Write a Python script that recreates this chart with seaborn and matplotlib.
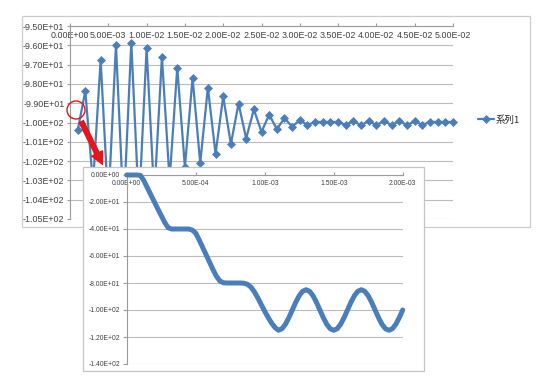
import matplotlib
matplotlib.use("Agg")
import matplotlib.pyplot as plt
import seaborn as sns
import pandas as pd
from matplotlib.patches import Rectangle, Circle, FancyArrow

# ---------------- data ----------------
# main chart: time (s) and value
main_t = [0.001, 0.002, 0.003, 0.004, 0.005, 0.006, 0.007, 0.008, 0.009, 0.010,
          0.011, 0.012, 0.013, 0.014, 0.015, 0.016, 0.017, 0.018, 0.019, 0.020,
          0.021, 0.022, 0.023, 0.024, 0.025, 0.026, 0.027, 0.028, 0.029, 0.030,
          0.031, 0.032, 0.033, 0.034, 0.035, 0.036, 0.037, 0.038, 0.039, 0.040,
          0.041, 0.042, 0.043, 0.044, 0.045, 0.046, 0.047, 0.048, 0.049, 0.050]
main_v = [-100.41, -98.37, -103.2, -96.76, -104.3, -95.98, -104.6, -95.87, -104.4, -96.16,
          -103.8, -96.59, -103.0, -97.16, -102.3, -97.69, -102.10, -98.19, -101.63, -98.65,
          -101.12, -99.02, -100.83, -99.32, -100.49, -99.59, -100.35, -99.77, -100.22, -99.87,
          -100.13, -99.97, -99.97, -99.97, -99.97, -100.13, -99.92, -100.15, -99.90, -100.15,
          -99.90, -100.15, -99.90, -100.15, -99.92, -100.13, -99.97, -99.97, -99.97, -99.97]
series_name = "系列1"

main_xticks = [0.0, 0.005, 0.010, 0.015, 0.020, 0.025, 0.030, 0.035, 0.040, 0.045, 0.050]
main_xlabels = ["0.00E+00", "5.00E-03", "1.00E-02", "1.50E-02", "2.00E-02", "2.50E-02",
                "3.00E-02", "3.50E-02", "4.00E-02", "4.50E-02", "5.00E-02"]
main_yticks = [-105, -104, -103, -102, -101, -100, -99, -98, -97, -96, -95]
main_ylabels = ["-1.05E+02", "-1.04E+02", "-1.03E+02", "-1.02E+02", "-1.01E+02", "-1.00E+02",
                "-9.90E+01", "-9.80E+01", "-9.70E+01", "-9.60E+01", "-9.50E+01"]

# inset (zoom of the start): time in microseconds and value
inset_t_us = [0, 25, 50, 75, 100, 125, 150, 175, 200, 225, 250, 275, 300, 325, 350, 375,
              400, 425, 450, 475, 500, 525, 550, 575, 600, 625, 650, 675, 700, 725, 750, 775,
              800, 825, 850, 875, 900, 925, 950, 975, 1000, 1025, 1050, 1075, 1100, 1125,
              1150, 1175, 1200, 1225, 1250, 1275, 1300, 1325, 1350, 1375, 1400, 1425, 1450,
              1475, 1500, 1525, 1550, 1575, 1600, 1625, 1650, 1675, 1700, 1725, 1750, 1775,
              1800, 1825, 1850, 1875, 1900, 1925, 1950, 1975, 2000]
inset_v = [0, 0, 0, 0, -0.3, -4.3, -9.5, -14.7, -19.8, -25, -30, -35, -39, -40, -40, -40,
           -40, -40, -40, -40.8, -43, -48, -53.5, -59, -64.5, -70, -75, -78.5, -79.8, -80, -80, -80,
           -80, -80, -80.2, -81, -83, -86.5, -91, -96, -101, -105.5, -109.7, -113, -115, -113.9,
           -110.6, -105.7, -100, -94.3, -89.4, -86.1, -85, -86.1, -89.4, -94.3, -100, -105.7, -110.6,
           -113.9, -115, -113.9, -110.6, -105.7, -100, -94.3, -89.4, -86.1, -85, -86.1, -89.4, -94.3,
           -100, -105.7, -110.6, -113.9, -115, -113.9, -110.6, -105.7, -100]

inset_xticks = [0.0, 0.0005, 0.0010, 0.0015, 0.0020]
inset_xlabels = ["0.00E+00", "5.00E-04", "1.00E-03", "1.50E-03", "2.00E-03"]
inset_yticks = [0, -20, -40, -60, -80, -100, -120, -140]
inset_ylabels = ["0.00E+00", "-2.00E+01", "-4.00E+01", "-6.00E+01", "-8.00E+01",
                 "-1.00E+02", "-1.20E+02", "-1.40E+02"]

# ---------------- style ----------------
sns.set_style("white")
plt.rcParams["font.family"] = ["Liberation Sans", "DejaVu Sans"]

W, H = 551, 390
BLUE = "#4a7ebb"
GRID = "#bcbcbc"
AXIS = "#9a9a9a"
TXT = "#404040"
RED = "#e8141b"

fig = plt.figure(figsize=(W / 100, H / 100), dpi=100)
fig.patch.set_facecolor("white")


def frac(x0, y0, x1, y1):
    """pixel box (top-left origin) -> figure fraction rect"""
    return [x0 / W, 1 - y1 / H, (x1 - x0) / W, (y1 - y0) / H]


# background with main chart border
bg = fig.add_axes([0, 0, 1, 1], zorder=0)
bg.set_xlim(0, W)
bg.set_ylim(H, 0)
bg.axis("off")
bg.add_patch(Rectangle((22, 16), 508, 211, fill=False, ec="#cccccc", lw=0.9))

# ---------------- main chart ----------------
ax = fig.add_axes(frac(70, 26, 453, 219), zorder=1)
ax.patch.set_alpha(0)
df_main = pd.DataFrame({"t": main_t, "v": main_v})
sns.lineplot(data=df_main, x="t", y="v", ax=ax, color=BLUE, lw=1.6, marker="D",
             markersize=3.6, markeredgecolor=BLUE, markeredgewidth=0.5,
             estimator=None, sort=False, label=series_name, legend=False)
for ln in ax.lines:
    ln.set_clip_on(False)
ax.set_xlim(0, 0.05)
ax.set_ylim(-105, -95)
ax.set_xticks(main_xticks)
ax.set_xticklabels(main_xlabels)
ax.set_yticks(main_yticks)
ax.set_yticklabels(main_ylabels)
ax.set_xlabel("")
ax.set_ylabel("")
ax.grid(axis="y", color=GRID, lw=0.8)
ax.grid(axis="x", visible=False)
for s in ["right", "bottom"]:
    ax.spines[s].set_visible(False)
for s in ["left", "top"]:
    ax.spines[s].set_color(AXIS)
    ax.spines[s].set_linewidth(0.8)
ax.tick_params(axis="y", left=True, direction="out", length=2.5, width=0.8,
               color=AXIS, pad=1.5, labelsize=6.4, labelcolor=TXT)
ax.tick_params(axis="x", top=True, bottom=False, labeltop=True, labelbottom=False,
               direction="out", length=2.5, width=0.8, color=AXIS, pad=-12.5,
               labelsize=6.4, labelcolor=TXT)

handles, labels = ax.get_legend_handles_labels()
leg = ax.legend(handles, labels, loc="center left",
                bbox_to_anchor=(478 / W, 1 - 120 / H), bbox_transform=fig.transFigure,
                frameon=False, handlelength=1.7, handletextpad=0.15, borderpad=0,
                borderaxespad=0,
                prop={"family": ["Noto Sans CJK JP", "DejaVu Sans"], "size": 6.8})
for t in leg.get_texts():
    t.set_color("#222222")

# ---------------- inset ----------------
fr = fig.add_axes([0, 0, 1, 1], zorder=2)
fr.set_xlim(0, W)
fr.set_ylim(H, 0)
fr.axis("off")
fr.patch.set_alpha(0)
fr.add_patch(Rectangle((83, 167), 341, 204, fc="white", ec="#c4c4c4", lw=0.9))

ia = fig.add_axes(frac(126.7, 175, 402.7, 364), zorder=3)
ia.patch.set_alpha(0)
df_in = pd.DataFrame({"t": [u / 1e6 for u in inset_t_us], "v": inset_v})
sns.lineplot(data=df_in, x="t", y="v", ax=ia, color=BLUE, lw=3.6,
             estimator=None, sort=False, legend=False)
for ln in ia.lines:
    ln.set_clip_on(False)
    ln.set_solid_capstyle("round")
    ln.set_solid_joinstyle("round")
    ln.set_zorder(5)
ia.set_xlim(0, 0.002)
ia.set_ylim(-140, 0)
ia.set_xticks(inset_xticks)
ia.set_xticklabels(inset_xlabels)
ia.set_yticks(inset_yticks)
ia.set_yticklabels(inset_ylabels)
ia.set_xlabel("")
ia.set_ylabel("")
ia.grid(axis="y", color=GRID, lw=0.8)
ia.grid(axis="x", visible=False)
for s in ["right", "bottom"]:
    ia.spines[s].set_visible(False)
for s in ["left", "top"]:
    ia.spines[s].set_color(AXIS)
    ia.spines[s].set_linewidth(0.8)
ia.tick_params(axis="y", left=True, direction="out", length=3, width=0.8,
               color=AXIS, pad=1.8, labelsize=4.9, labelcolor=TXT)
ia.tick_params(axis="x", top=True, bottom=False, labeltop=True, labelbottom=False,
               direction="out", length=2.5, width=0.8, color=AXIS, pad=-11.5,
               labelsize=4.9, labelcolor=TXT)

# ---------------- annotations (circle + arrow) ----------------
ov = fig.add_axes([0, 0, 1, 1], zorder=4)
ov.set_xlim(0, W)
ov.set_ylim(H, 0)
ov.axis("off")
ov.patch.set_alpha(0)
ov.add_patch(Circle((76, 110), 9, fill=False, ec=RED, lw=1.0))
ov.add_patch(FancyArrow(81, 121, 22, 44.5, width=6, head_width=14, head_length=14,
                        length_includes_head=True, fc=RED, ec="none"))

fig.savefig("out.png", dpi=100, facecolor="white")
